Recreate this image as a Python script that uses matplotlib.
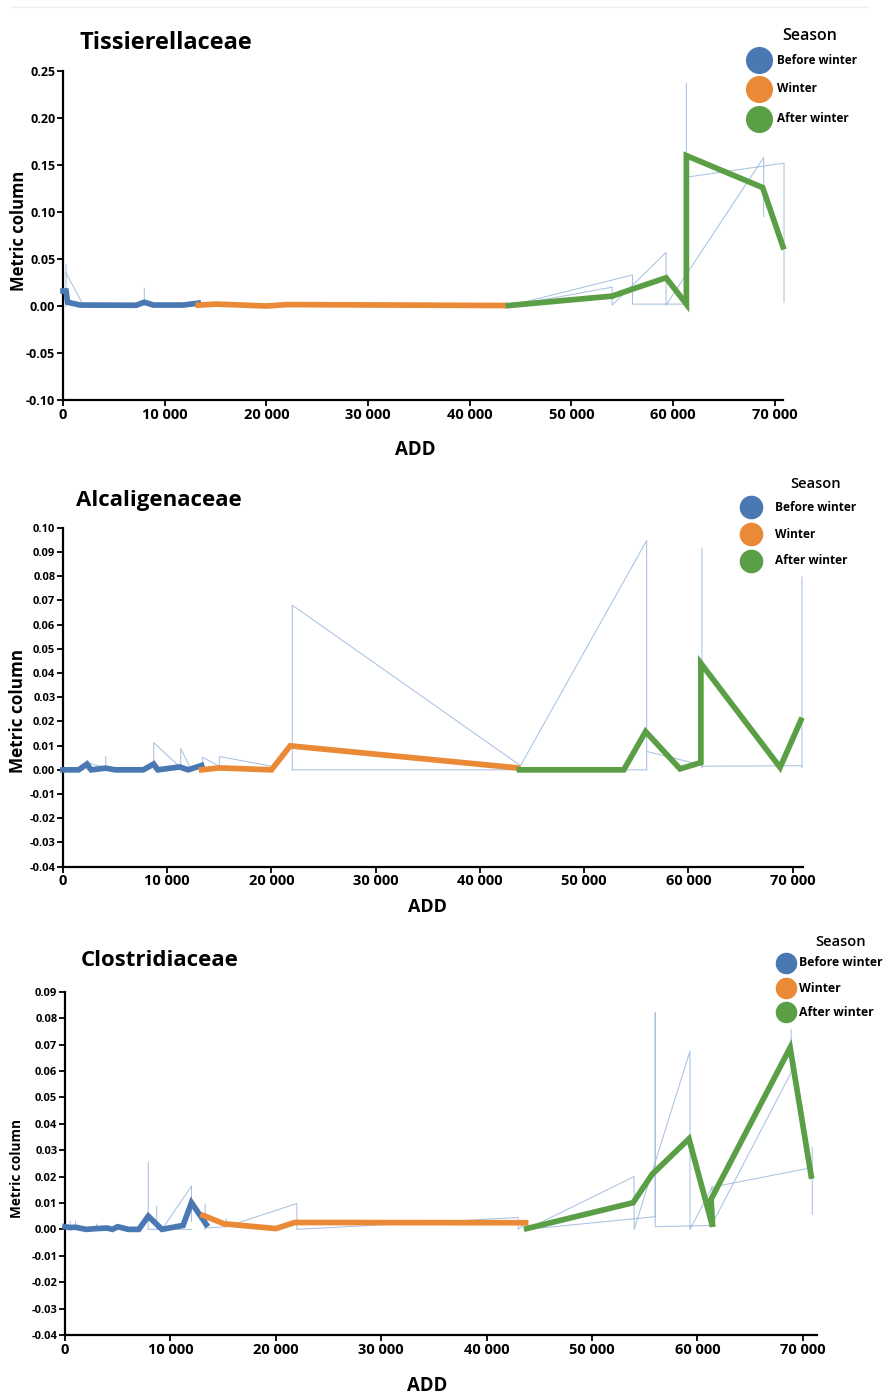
import numpy as np
import matplotlib.pyplot as plt
from matplotlib.lines import Line2D
from matplotlib.ticker import FuncFormatter, MultipleLocator

plt.rcParams['font.family'] = ['Open Sans', 'DejaVu Sans']

SEASONS = ['Before winter', 'Winter', 'After winter']
COLORS = ['#4a78b3', '#ea8936', '#5a9e45']
ERR_COLOR = '#a9c2e2'
nan = np.nan

# ---- Tissierellaceae ----
tis_before_x = [0, 300, 450, 1700, 7200, 8000, 8900, 11800, 13300]
tis_before_y = [0.016, 0.016, 0.004, 0.001, 0.0008, 0.004, 0.001, 0.001, 0.003]
tis_winter_x = [13300, 15100, 20000, 22000, 43500]
tis_winter_y = [0.001, 0.002, 0.0, 0.0015, 0.0005]
tis_after_x = [43800, 54000, 56000, 59300, 61300, 61300, 68800, 70800]
tis_after_y = [0.0005, 0.0105, 0.018, 0.030, 0.002, 0.160, 0.126, 0.063]
# thin spread lines (segments split by nan)
tis_err_x = [300, 300, nan, 300, 2000, nan, 8000, 8000, nan,
             43800, 56000, 56000, 61300, nan,
             43800, 54000, 54000, 59300, 59300, 68900, 68900, nan,
             61300, 61300, nan, 61300, 70900, 70900]
tis_err_y = [0.0, 0.044, nan, 0.035, 0.001, nan, 0.001, 0.019, nan,
             0.0, 0.033, 0.002, 0.002, nan,
             0.0, 0.020, 0.001, 0.057, 0.001, 0.158, 0.095, nan,
             0.003, 0.237, nan, 0.137, 0.152, 0.004]

# ---- Alcaligenaceae ----
alc_before_x = [0, 1500, 2300, 2700, 4100, 5000, 7700, 8700, 9100, 11200, 12000, 13300]
alc_before_y = [0.0, 0.0, 0.0024, 0.0, 0.0007, 0.0, 0.0, 0.0024, 0.0, 0.0012, 0.0, 0.0018]
alc_winter_x = [13300, 15000, 20000, 21800, 43600]
alc_winter_y = [0.0, 0.0008, 0.0, 0.0099, 0.0008]
alc_after_x = [43800, 53800, 55900, 59200, 61200, 61200, 68800, 70800]
alc_after_y = [0.0, 0.0, 0.0158, 0.0004, 0.003, 0.044, 0.001, 0.0205]
alc_err_x = [2300, 2300, 4000, nan, 4100, 4100, nan, 8700, 8700, 11000, nan,
             11300, 11300, 12300, nan, 13400, 13400, 15000, nan,
             15000, 15000, 20000, nan, 22000, 22000, 43800, nan,
             22000, 56000, nan, 43800, 56000, 56000, nan, 56000, 61300, nan,
             61300, 61300, nan, 61300, 70900, nan, 70900, 70900]
alc_err_y = [0.0, 0.003, 0.001, nan, 0.0, 0.0055, nan, 0.0, 0.0113, 0.002, nan,
             0.0, 0.0088, 0.0, nan, 0.0, 0.0052, 0.0015, nan,
             0.0, 0.0055, 0.0015, nan, 0.0, 0.068, 0.002, nan,
             0.0, 0.0, nan, 0.001, 0.0947, 0.0, nan, 0.0076, 0.002, nan,
             0.0916, 0.001, nan, 0.0015, 0.0017, nan, 0.0796, 0.001]

# ---- Clostridiaceae ----
clo_before_x = [0, 500, 1000, 2000, 3000, 4000, 4500, 5000, 6000, 7000, 7900, 9200, 11200, 12000, 13400]
clo_before_y = [0.001, 0.0007, 0.0008, 0.0, 0.0003, 0.0005, 0.0, 0.001, 0.0, 0.0, 0.005, 0.0, 0.0015, 0.0101, 0.0019]
clo_winter_x = [13100, 15100, 20000, 21800, 43700]
clo_winter_y = [0.0053, 0.0021, 0.0003, 0.0026, 0.0025]
clo_after_x = [43800, 53900, 55700, 59200, 61450, 61300, 68800, 70800]
clo_after_y = [0.0003, 0.0101, 0.0208, 0.0343, 0.001, 0.0114, 0.0688, 0.0202]
clo_err_x = [0, 0, nan, 500, 500, nan, 1000, 1000, nan, 3000, 3000, nan,
             7900, 7900, nan, 8700, 8700, nan, 7900, 12000, nan,
             9200, 12000, 12000, nan, 13300, 13300, nan, 13300, 15300, 15300, nan,
             15300, 22000, 22000, 43000, 43000, 43800, nan,
             43800, 54000, 54000, 59300, 59300, 61400, 61400, 68900, 68900, nan,
             43800, 56000, 56000, 56000, 61400, nan, 61400, 70900, nan, 70900, 70900]
clo_err_y = [0.0, 0.0066, nan, 0.0, 0.003, nan, 0.0, 0.003, nan, 0.0, 0.002, nan,
             0.0, 0.0253, nan, 0.0, 0.0088, nan, 0.0, 0.0, nan,
             0.0, 0.0164, 0.003, nan, 0.0, 0.0095, nan, 0.0005, 0.001, 0.004, nan,
             0.001, 0.0098, 0.0, 0.0045, 0.0, 0.0025, nan,
             0.0, 0.020, 0.0, 0.0675, 0.0, 0.016, 0.002, 0.0594, 0.0757, nan,
             0.0, 0.0048, 0.082, 0.001, 0.0015, nan, 0.016, 0.0234, nan, 0.031, 0.0057]

W, H = 893, 1395
fig = plt.figure(figsize=(W / 100, H / 100), dpi=100)


def fx(px):
    return px / W


def fy(py):
    return 1 - py / H


def draw_panel(box, xs, ys, ex, ey, xmax, ylim, ystep, ytick_fs):
    l, r, t, b = box
    ax = fig.add_axes([fx(l), fy(b), (r - l) / W, (b - t) / H])
    ax.plot(ex, ey, color=ERR_COLOR, lw=0.75, zorder=1, clip_on=False)
    for x, y, c in zip(xs, ys, COLORS):
        ax.plot(x, y, color=c, lw=4.1, zorder=3, solid_joinstyle='miter', clip_on=False)
    for s in ['top', 'right']:
        ax.spines[s].set_visible(False)
    for s in ['left', 'bottom']:
        ax.spines[s].set_linewidth(1.6)
    ax.set_xlim(0, xmax)
    ax.set_ylim(*ylim)
    ax.xaxis.set_major_locator(MultipleLocator(10000))
    ax.yaxis.set_major_locator(MultipleLocator(ystep))
    ax.xaxis.set_major_formatter(FuncFormatter(lambda v, p: '{:,}'.format(int(v)).replace(',', ' ')))
    ax.yaxis.set_major_formatter(FuncFormatter(lambda v, p: '{:.2f}'.format(v)))
    ax.tick_params(axis='both', length=4, width=1.3, pad=1.5)
    ax.tick_params(axis='y', labelsize=ytick_fs)
    ax.tick_params(axis='x', labelsize=10.5)
    for lab in ax.get_xticklabels() + ax.get_yticklabels():
        lab.set_fontweight('bold')
    return ax


def draw_legend(title_xy, mark_x, text_x, rows_y, title_fs, lab_fs, ms):
    fig.text(fx(title_xy[0]), fy(title_xy[1]), 'Season', ha='center', va='center',
             fontsize=title_fs, fontweight='semibold')
    for lab, c, y in zip(SEASONS, COLORS, rows_y):
        fig.add_artist(Line2D([fx(mark_x)], [fy(y)], transform=fig.transFigure,
                              marker='o', ms=ms, color=c, ls='none'))
        fig.text(fx(text_x), fy(y), lab, va='center', fontsize=lab_fs, fontweight='bold')


# faint frame line at the top
fig.add_artist(Line2D([fx(11), fx(868)], [fy(7), fy(7)], transform=fig.transFigure,
                      color='#eeeeee', lw=1))

# panel 1
draw_panel((63, 783, 71, 400),
           [tis_before_x, tis_winter_x, tis_after_x],
           [tis_before_y, tis_winter_y, tis_after_y],
           tis_err_x, tis_err_y, 70800, (-0.10, 0.25), 0.05, 9)
fig.text(fx(80), fy(49), 'Tissierellaceae', fontsize=17, fontweight='bold', va='baseline')
fig.text(fx(415), fy(455), 'ADD', fontsize=13.5, fontweight='bold', ha='center', va='baseline')
fig.text(fx(19), fy(231), 'Metric column', fontsize=12, fontweight='bold', rotation=90,
         ha='center', va='center')
draw_legend((810, 36), 759, 777, [60, 89, 119], 11.5, 8.5, 18.5)

# panel 2
draw_panel((63, 803, 527.7, 866.7),
           [alc_before_x, alc_winter_x, alc_after_x],
           [alc_before_y, alc_winter_y, alc_after_y],
           alc_err_x, alc_err_y, 71000, (-0.04, 0.10), 0.01, 8)
fig.text(fx(76), fy(505.7), 'Alcaligenaceae', fontsize=16, fontweight='bold', va='baseline')
fig.text(fx(427), fy(911.7), 'ADD', fontsize=13, fontweight='bold', ha='center', va='baseline')
fig.text(fx(18), fy(711), 'Metric column', fontsize=12.3, fontweight='bold', rotation=90,
         ha='center', va='center')
draw_legend((816, 484), 751, 775, [507, 534, 561], 10.5, 8.6, 16)

# panel 3
draw_panel((65, 817, 991.7, 1335),
           [clo_before_x, clo_winter_x, clo_after_x],
           [clo_before_y, clo_winter_y, clo_after_y],
           clo_err_x, clo_err_y, 71350, (-0.04, 0.09), 0.01, 8)
fig.text(fx(81), fy(965.7), 'Clostridiaceae', fontsize=16, fontweight='bold', va='baseline')
fig.text(fx(427), fy(1391), 'ADD', fontsize=13.4, fontweight='bold', ha='center', va='baseline')
fig.text(fx(17.5), fy(1169), 'Metric column', fontsize=9.8, fontweight='bold', rotation=90,
         ha='center', va='center')
draw_legend((841, 942), 786, 799, [963, 988, 1012], 10.5, 8.8, 14.5)

fig.savefig('out.png', dpi=100)
